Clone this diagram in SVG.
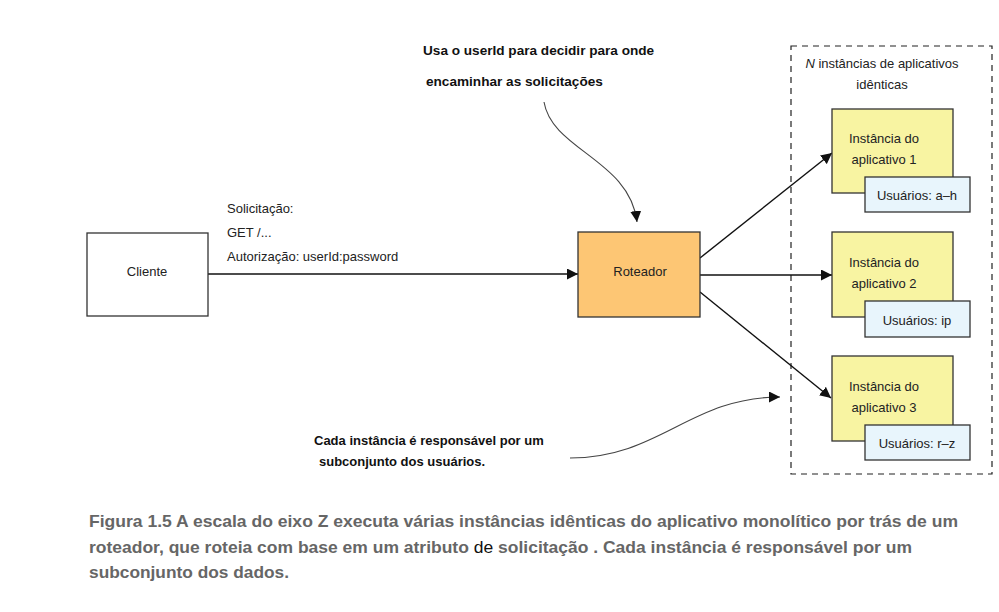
<svg xmlns="http://www.w3.org/2000/svg" width="999" height="612" viewBox="0 0 999 612">
<defs>
<style>
.box{stroke:#333;stroke-width:1.3}
.t{font-family:"Liberation Sans",Arial,sans-serif;font-size:13px;fill:#222}
.b{font-family:"Liberation Sans",Arial,sans-serif;font-size:13px;font-weight:bold;fill:#111}
.bt{font-size:13.6px}
.cap{font-family:"Liberation Sans",Arial,sans-serif;font-size:16.5px;font-weight:bold;fill:#666}
.ln{fill:none;stroke:#111;stroke-width:1.4}
.cv{fill:none;stroke:#444;stroke-width:1.1}
</style>
<marker id="ah" viewBox="0 0 10 10" refX="10" refY="5" markerWidth="11" markerHeight="11" markerUnits="userSpaceOnUse" orient="auto">
<path d="M0,0 L10,5 L0,10 z" fill="#111"/>
</marker>
</defs>
<rect width="999" height="612" fill="#fff"/>
<g id="container">
<rect x="791" y="46" width="201" height="428" fill="none" stroke="#222" stroke-width="1.2" stroke-dasharray="6,5"/>
<text class="t" x="882" y="68" text-anchor="middle"><tspan font-style="italic">N</tspan> instâncias de aplicativos</text>
<text class="t" x="882" y="89" text-anchor="middle">idênticas</text>
</g>
<g id="connectors">
<line class="ln" x1="208" y1="274" x2="578" y2="274" marker-end="url(#ah)"/>
<line class="ln" x1="700" y1="258" x2="832" y2="153" marker-end="url(#ah)"/>
<line class="ln" x1="700" y1="275" x2="832" y2="275" marker-end="url(#ah)"/>
<line class="ln" x1="700" y1="292" x2="831" y2="398" marker-end="url(#ah)"/>
<path class="cv" d="M544,102 C552,150 630,160 637,222" marker-end="url(#ah)"/>
<path class="cv" d="M570,458 C660,458 690,397 780,397" marker-end="url(#ah)"/>
</g>
<g id="cliente">
<rect class="box" x="87" y="233" width="121" height="83" fill="#fff"/>
<text class="t" x="147" y="276" text-anchor="middle">Cliente</text>
</g>
<g id="request-label">
<text class="t" x="227" y="213">Solicitação:</text>
<text class="t" x="227" y="237">GET /...</text>
<text class="t" x="227" y="261">Autorização: userId:password</text>
</g>
<g id="roteador">
<rect class="box" x="578" y="232" width="122" height="85" fill="#fdc674"/>
<text class="t" x="640" y="276" text-anchor="middle">Roteador</text>
</g>
<g id="inst1">
<rect class="box" x="832" y="109" width="121" height="84" fill="#f8f4a2"/>
<text class="t" x="884" y="143" text-anchor="middle">Instância do</text>
<text class="t" x="884" y="164" text-anchor="middle">aplicativo 1</text>
<rect class="box" x="865" y="177" width="105" height="35" fill="#e8f5fc"/>
<text class="t" x="917" y="200" text-anchor="middle">Usuários: a–h</text>
</g>
<g id="inst2">
<rect class="box" x="832" y="232" width="121" height="85" fill="#f8f4a2"/>
<text class="t" x="884" y="267" text-anchor="middle">Instância do</text>
<text class="t" x="884" y="288" text-anchor="middle">aplicativo 2</text>
<rect class="box" x="865" y="301" width="105" height="36" fill="#e8f5fc"/>
<text class="t" x="917" y="325" text-anchor="middle">Usuários: ip</text>
</g>
<g id="inst3">
<rect class="box" x="832" y="356" width="121" height="85" fill="#f8f4a2"/>
<text class="t" x="884" y="391" text-anchor="middle">Instância do</text>
<text class="t" x="884" y="412" text-anchor="middle">aplicativo 3</text>
<rect class="box" x="865" y="425" width="105" height="35" fill="#e8f5fc"/>
<text class="t" x="917" y="448" text-anchor="middle">Usuários: r–z</text>
</g>
<g id="note-top">
<text class="b bt" x="423" y="55">Usa o userId para decidir para onde</text>
<text class="b bt" x="426" y="86">encaminhar as solicitações</text>
</g>
<g id="note-bottom">
<text class="b" x="314" y="445">Cada instância é responsável por um</text>
<text class="b" x="319" y="466">subconjunto dos usuários.</text>
</g>
<g id="caption">
<text class="cap" x="89" y="527" textLength="869" lengthAdjust="spacingAndGlyphs">Figura 1.5 A escala do eixo Z executa várias instâncias idênticas do aplicativo monolítico por trás de um</text>
<text class="cap" x="89" y="553" textLength="823" lengthAdjust="spacingAndGlyphs">roteador, que roteia com base em um atributo <tspan font-weight="normal" fill="#111">de</tspan> solicitação . Cada instância é responsável por um</text>
<text class="cap" x="89" y="578" textLength="200" lengthAdjust="spacingAndGlyphs">subconjunto dos dados.</text>
</g>
</svg>
